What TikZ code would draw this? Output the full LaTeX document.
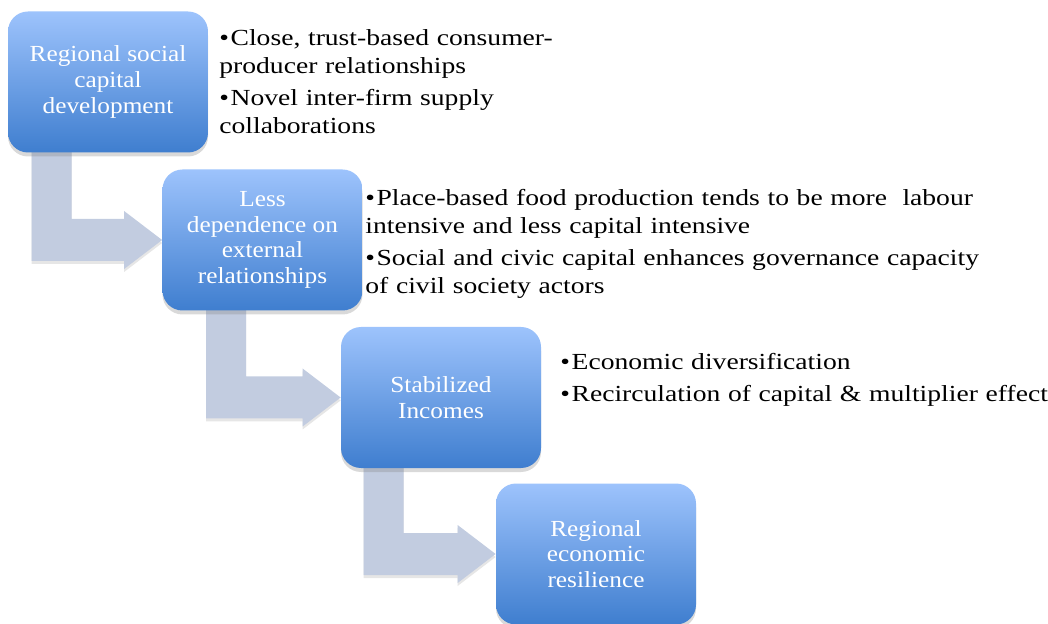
\documentclass[tikz,border=0pt]{standalone}
\usepackage{fontspec}
\setmainfont{Liberation Serif}
\newfontfamily\stagefont[FakeStretch=1.1]{Liberation Serif}
\newfontfamily\notefont[FakeStretch=1.2]{Liberation Serif}
\usetikzlibrary{calc,shadows,backgrounds}

\definecolor{stagetop}{HTML}{9DC3FC}
\definecolor{stagebot}{HTML}{3F7ECF}
\definecolor{flowgray}{HTML}{C2CCE0}

\newlength{\dotwd}
% bullet with the wrapped lines hung under the text
\newcommand{\noteitem}[1]{\settowidth{\dotwd}{\textbullet\kern0.8pt}%
  \hangindent=\dotwd\hangafter=1\strut\textbullet\kern0.8pt#1}

\tikzset{
  stage/.style={rounded corners=10pt, minimum width=100pt, minimum height=70.5pt,
    top color=stagetop, bottom color=stagebot, text=white, align=center,
    font=\stagefont\fontsize{11.5}{12.8}\selectfont,
    drop shadow={opacity=0.3, shadow xshift=0pt, shadow yshift=-2pt}},
  flow/.style={fill=flowgray,
    drop shadow={opacity=0.2, shadow xshift=0pt, shadow yshift=-1.5pt}},
  note/.style={anchor=north west, inner sep=0pt, text width=340pt, align=left,
    font=\notefont\fontsize{11.5}{14}\selectfont},
}

% bent arrow from the bottom of #1 into the west side of #2, bar set in by #3
\newcommand{\stepflow}[3]{%
  \fill[flow] let \p1=(#1.south west), \p2=(#2.west) in
    (\x1+#3, \y1+30pt) -- (\x1+#3, \y2-10.5pt) -- (\x2-19pt, \y2-10.5pt)
    -- (\x2-19pt, \y2-14.5pt) -- (\p2) -- (\x2-19pt, \y2+14.5pt)
    -- (\x2-19pt, \y2+10.5pt) -- (\x1+#3+20pt, \y2+10.5pt)
    -- (\x1+#3+20pt, \y1+30pt) -- cycle;}

\begin{document}
\begin{tikzpicture}[x=0.5pt, y=-0.5pt]
  \useasboundingbox (0,0) rectangle (1048,624);

  % the four stages
  \node[stage] (social) at (108,82) {Regional social\\capital\\development};
  \node[stage] (less) at (262.5,240) {Less\\dependence on\\external\\relationships};
  \node[stage] (income) at (441,397.5) {Stabilized\\Incomes};
  \node[stage] (resil) at (596,554) {Regional\\economic\\resilience};

  \begin{scope}[on background layer]
    \stepflow{social}{less}{12pt}
    \stepflow{less}{income}{22pt}
    \stepflow{income}{resil}{11.5pt}
  \end{scope}

  % notes beside each stage (placed by the top of the strut, 19.6 above the baseline)
  \node[note] (close) at (219,25.4) {\noteitem{Close, trust-based consumer-\\producer relationships}};
  \node[note] (novel) at (219,85.4) {\noteitem{Novel inter-firm supply\\collaborations}};

  \node[note] (place) at (365,185.4) {\noteitem{Place-based food production tends to be more \ labour\\intensive and less capital intensive}};
  \node[note] (civic) at (365,245.4) {\noteitem{Social and civic capital enhances governance capacity\\of civil society actors}};

  \node[note] (divers) at (560,349.4) {\noteitem{Economic diversification}};
  \node[note] (recirc) at (560,381.4) {\noteitem{Recirculation of capital \& multiplier effect}};
\end{tikzpicture}
\end{document}
